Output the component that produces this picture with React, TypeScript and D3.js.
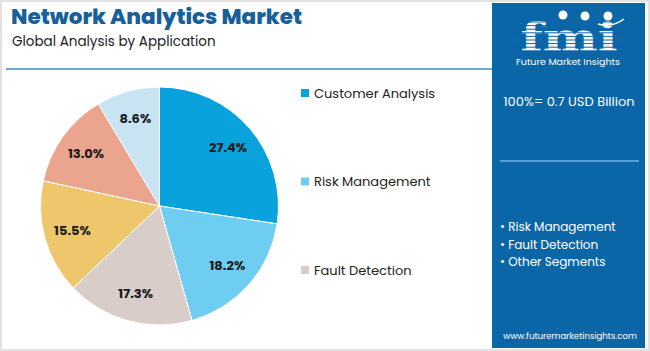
import { useEffect, useRef } from 'react';
import * as d3 from 'd3';

const segments = ['Customer Analysis', 'Risk Management', 'Fault Detection', 'Segment 4', 'Segment 5', 'Segment 6'];
const shares = [27.4, 18.2, 17.3, 15.5, 13.0, 8.6];
const colors = ['#0aa2dc', '#6fcdf2', '#d8cdc9', '#eec76c', '#eba48d', '#c8e4f3'];
const legendItems = ['Customer Analysis', 'Risk Management', 'Fault Detection'];
const panelBullets = ['Risk Management', 'Fault Detection', 'Other Segments'];

const FONT = 'Poppins, Inter, "Open Sans", sans-serif';

export default function App() {
  const svgRef = useRef<SVGSVGElement | null>(null);

  useEffect(() => {
    if (!svgRef.current) return;
    const svg = d3.select(svgRef.current);
    svg.selectAll('*').remove();

    const W = 650;
    const H = 351;
    svg.attr('width', W).attr('height', H).style('font-family', FONT);

    svg.append('rect').attr('x', 0).attr('y', 0).attr('width', W).attr('height', H).attr('fill', '#fff');
    svg.append('rect').attr('x', 1).attr('y', 1).attr('width', W - 2).attr('height', H - 2)
      .attr('fill', 'none').attr('stroke', '#e2e2e2').attr('stroke-width', 2);

    // Title
    svg.append('text').attr('x', 11).attr('y', 24).text('Network Analytics Market')
      .attr('fill', '#17609a').style('font-size', '21.5px').style('font-weight', 800);
    svg.append('text').attr('x', 12).attr('y', 46).text('Global Analysis by Application')
      .attr('fill', '#222').style('font-size', '13.5px');
    svg.append('line').attr('x1', 6).attr('x2', 492).attr('y1', 69).attr('y2', 69)
      .attr('stroke', '#3d8fcb').attr('stroke-width', 1.5);

    // Pie
    const cx = 159.5;
    const cy = 206;
    const r = 119;
    const pie = d3.pie<number>().sort(null).value((d) => d);
    const arcs = pie(shares);
    const arc = d3.arc<d3.PieArcDatum<number>>().innerRadius(0).outerRadius(r);
    const labelArc = d3.arc<d3.PieArcDatum<number>>().innerRadius(r * 0.76).outerRadius(r * 0.76);
    const g = svg.append('g').attr('transform', `translate(${cx},${cy})`);
    g.selectAll('path').data(arcs).enter().append('path')
      .attr('d', arc).attr('fill', (_d, i) => colors[i])
      .attr('stroke', '#fff').attr('stroke-width', 1);
    g.selectAll('text.lbl').data(arcs).enter().append('text')
      .attr('class', 'lbl')
      .attr('transform', (d) => `translate(${labelArc.centroid(d)})`)
      .attr('text-anchor', 'middle').attr('dy', '0.35em')
      .attr('fill', '#1b1b1b').style('font-size', '13px').style('font-weight', 700)
      .text((d) => `${d.data.toFixed(1)}%`);

    // Legend
    const ly = d3.scalePoint<string>().domain(legendItems).range([93, 270]);
    const lg = svg.append('g');
    legendItems.forEach((name) => {
      const i = segments.indexOf(name);
      const y = ly(name) ?? 0;
      lg.append('rect').attr('x', 301).attr('y', y - 4).attr('width', 8).attr('height', 8).attr('fill', colors[i]);
      lg.append('text').attr('x', 314).attr('y', y).attr('dy', '0.35em')
        .attr('fill', '#222').style('font-size', '13px').text(name);
    });

    // Right panel
    const px = 492;
    const panel = svg.append('g');
    panel.append('rect').attr('x', px).attr('y', 3).attr('width', 153).attr('height', 345).attr('fill', '#0b66a8');

    // logo
    const logo = panel.append('g');
    logo.append('text').attr('x', 0).attr('y', 0).attr('text-anchor', 'middle')
      .attr('transform', 'translate(569,51) scale(1.3,1)')
      .attr('fill', '#fff').style('font-family', '"DejaVu Serif", serif').style('font-weight', 700)
      .style('font-size', '40px').text('fmi');
    d3.range(22, 54, 3.6).forEach((y) => {
      logo.append('line').attr('x1', 512).attr('x2', 626).attr('y1', y).attr('y2', y)
        .attr('stroke', '#0b66a8').attr('stroke-width', 1);
    });
    [[563, 15], [585, 16], [608, 16]].forEach(([x, y]) => {
      logo.append('circle').attr('cx', x).attr('cy', y).attr('r', 4.5).attr('fill', '#fff');
    });
    logo.append('path').attr('d', 'M598,24 Q612,28 624,19').attr('fill', 'none').attr('stroke', '#fff').attr('stroke-width', 1.5);
    logo.append('text').attr('x', 568).attr('y', 65).attr('text-anchor', 'middle')
      .attr('fill', '#fff').style('font-size', '9.5px').text('Future Market Insights');

    panel.append('text').attr('x', 569).attr('y', 106).attr('text-anchor', 'middle')
      .attr('fill', '#fff').style('font-size', '13px').text('100%= 0.7 USD Billion');
    panel.append('line').attr('x1', 500).attr('x2', 639).attr('y1', 161).attr('y2', 161)
      .attr('stroke', '#6cb4e6').attr('stroke-width', 1.5);

    panelBullets.forEach((b, i) => {
      panel.append('text').attr('x', 500).attr('y', 231 + i * 17.5)
        .attr('fill', '#fff').style('font-size', '12px').text(`• ${b}`);
    });
    panel.append('text').attr('x', 570).attr('y', 339).attr('text-anchor', 'middle')
      .attr('fill', '#fff').style('font-size', '8.6px').text('www.futuremarketinsights.com');
  }, []);

  return (
    <div style={{ position: 'absolute', left: 0, top: 0 }}>
      <svg ref={svgRef} />
    </div>
  );
}
